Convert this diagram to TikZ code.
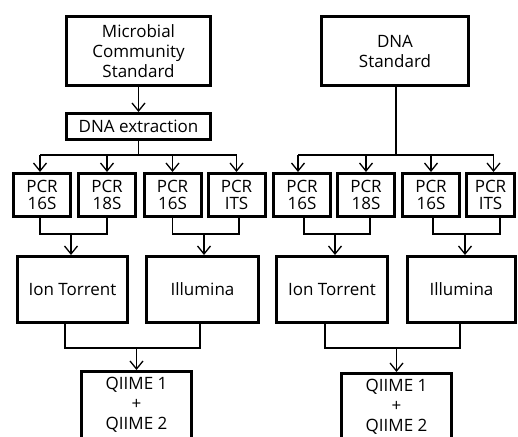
\documentclass[tikz,border=0pt]{standalone}
\usepackage{fontspec}
\setmainfont{Open Sans}
\usetikzlibrary{arrows.meta,calc}
\begin{document}
\begin{tikzpicture}[x=1pt,y=-1pt,
  box/.style={draw,line width=3pt,rectangle,inner sep=0pt,align=center,font=\fontsize{17}{20}\selectfont},
  pcr/.style={box,minimum width=57pt,minimum height=43pt,font=\fontsize{17}{17}\selectfont},
  con/.style={line width=1.3pt},
  arr/.style={con,-{Straight Barb[length=8pt,width=13pt,line width=1.3pt]}}]
\useasboundingbox (0,0) rectangle (518,436);
\clip (0,0) rectangle (518,436);
% top boxes
\node[box,minimum width=144pt,minimum height=69pt] (ms) at (138.5,51) {Microbial\\Community\\Standard};
\node[box,minimum width=144pt,minimum height=26pt] (ext) at (138.5,126.5) {DNA extraction};
\node[box,minimum width=147pt,minimum height=69pt] (dnas) at (395,51) {DNA\\Standard};
% PCR boxes
\node[pcr] (p1) at (42,195) {PCR\\16S};
\node[pcr] (p2) at (107,195) {PCR\\18S};
\node[pcr] (p3) at (172.5,195) {PCR\\16S};
\node[pcr] (p4) at (236.5,195) {PCR\\ITS};
\node[pcr] (p5) at (302,195) {PCR\\16S};
\node[pcr] (p6) at (366,195) {PCR\\18S};
\node[pcr] (p7) at (431,195) {PCR\\16S};
\node[pcr,minimum width=48pt] (p8) at (490.5,195) {PCR\\ITS};
% sequencers
\node[box,minimum width=110pt,minimum height=66pt] (ion1) at (72.5,289.5) {Ion Torrent};
\node[box,minimum width=112pt,minimum height=66pt] (ill1) at (202.5,289.5) {Illumina};
\node[box,minimum width=111pt,minimum height=66pt] (ion2) at (332,289.5) {Ion Torrent};
\node[box,minimum width=108pt,minimum height=66pt] (ill2) at (461.5,289.5) {Illumina};
% QIIME
\node[box,minimum width=110pt,minimum height=67pt] (q1) at (136.5,405) {QIIME 1\\+\\QIIME 2};
\node[box,minimum width=110pt,minimum height=67pt] (q2) at (396.5,407) {QIIME 1\\+\\QIIME 2};
% left top connectors
\draw[arr] (ms) -- (ext);
\coordinate (jl) at (138.5,155);
\draw[con] (ext.south) -- (jl);
\draw[con] ([xshift=-2pt]p1.north |- jl) -- (p4.north |- jl);
\draw[arr] ([xshift=-2pt]p1.north |- jl) -- ([xshift=-2pt]p1.north);
\foreach \p in {p2,p3,p4} \draw[arr] (\p.north |- jl) -- (\p.north);
% right top connectors
\coordinate (jr) at (396,155);
\draw[con] (dnas.south -| jr) -- (jr);
\draw[con] ([xshift=-4pt]p5.north |- jr) -- ([xshift=3pt]p8.north |- jr);
\draw[arr] ([xshift=-4pt]p5.north |- jr) -- ([xshift=-4pt]p5.north);
\draw[arr] ([xshift=3pt]p8.north |- jr) -- ([xshift=3pt]p8.north);
\foreach \p in {p6,p7} \draw[arr] (\p.north |- jr) -- (\p.north);
% PCR to sequencers
\draw[con] ([xshift=-2pt]p1.south) -- ++(0,16) coordinate (a1) -| (p2.south);
\draw[arr] ([xshift=-1.5pt]ion1.north |- a1) -- ([xshift=-1.5pt]ion1.north);
\draw[con] (p3.south) -- ++(0,16) coordinate (a2) -| ([xshift=2.5pt]p4.south);
\draw[arr] ([xshift=1.5pt]ill1.north |- a2) -- ([xshift=1.5pt]ill1.north);
\draw[con] ([xshift=2pt]p5.south) -- ++(0,16) coordinate (a3) -| ([xshift=4pt]p6.south);
\draw[arr] ([xshift=3pt]ion2.north |- a3) -- ([xshift=3pt]ion2.north);
\draw[con] ([xshift=2pt]p7.south) -- ++(0,16) coordinate (a4) -| ([xshift=9.5pt]p8.south);
\draw[arr] ([xshift=3.5pt]ill2.north |- a4) -- ([xshift=3.5pt]ill2.north);
% sequencers to QIIME
\draw[con] ([xshift=-7.5pt]ion1.south) -- ++(0,24) coordinate (b1) -| ([xshift=-2.5pt]ill1.south);
\draw[arr] (q1.north |- b1) -- (q1.north);
\draw[con] ([xshift=-7pt]ion2.south) -- ++(0,24) coordinate (b2) -| ([xshift=-1.5pt]ill2.south);
\draw[arr] (q2.north |- b2) -- (q2.north);
\end{tikzpicture}
\end{document}
